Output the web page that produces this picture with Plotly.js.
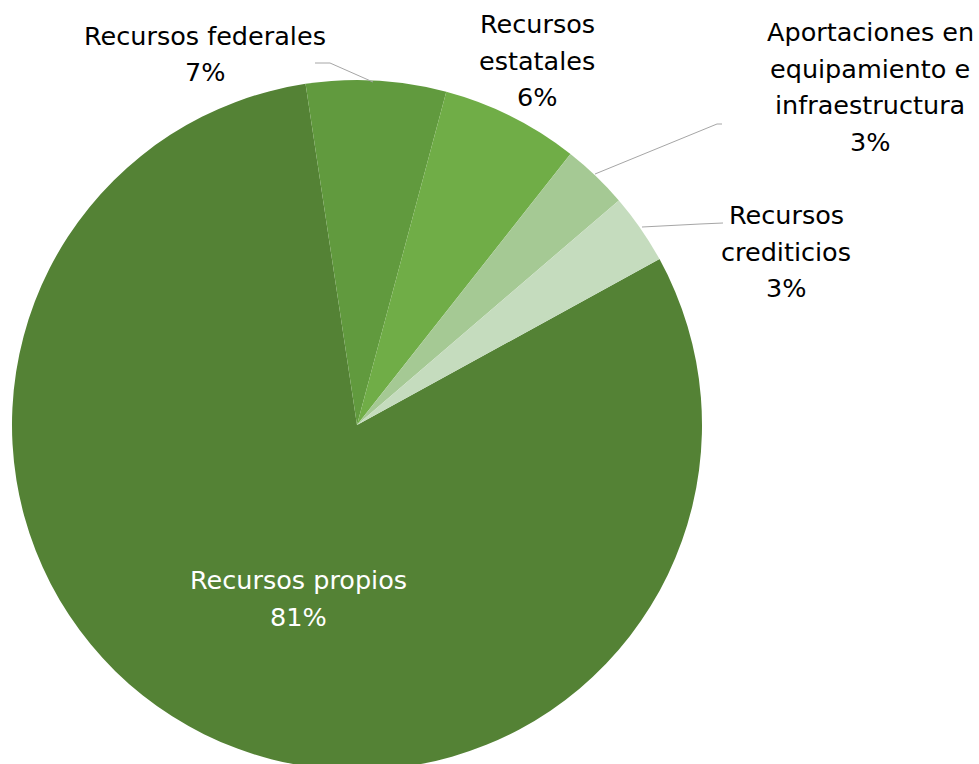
<!DOCTYPE html>
<html>
<head>
<meta charset="utf-8">
<script src="https://cdn.plot.ly/plotly-3.0.1.min.js"></script>
<style>
  html, body { margin: 0; padding: 0; overflow: hidden; background: #ffffff; }
  #chart { width: 979px; height: 800px; }
</style>
</head>
<body>
<div id="chart"></div>
<script>
// ---- data ----
const categories = ["Recursos propios", "Recursos federales", "Recursos estatales", "Aportaciones en equipamiento e infraestructura", "Recursos crediticios"];
const values = [80.6, 6.55, 6.45, 3.1, 3.3];
const colors = ["#548235", "#619A3E", "#70AD47", "#A5C994", "#C5DCBE"];
const labelLines = [
  ["Recursos propios"],
  ["Recursos federales"],
  ["Recursos", "estatales"],
  ["Aportaciones en", "equipamiento e", "infraestructura"],
  ["Recursos", "crediticios"]
];

// ---- layout helpers (pixel -> paper) ----
const W = 979, H = 800;
const px = x => x / W;
const py = y => 1 - y / H;

const total = values.reduce((a, b) => a + b, 0);
const pct = values.map(v => Math.round(v / total * 100) + "%");

// label anchor positions (center x, first-line y) and styles
const labelPos = [
  { x: 298, y: 580, color: "#ffffff" },
  { x: 205, y: 36, color: "#000000" },
  { x: 537, y: 24, color: "#000000" },
  { x: 870, y: 32, color: "#000000" },
  { x: 786, y: 215, color: "#000000" }
];
const lineGap = 36.5;
const FONT = "DejaVu Sans, sans-serif";
const FSIZE = 25.5;

const annotations = [];
labelLines.forEach((lines, i) => {
  const all = lines.concat([pct[i]]);
  all.forEach((t, k) => {
    annotations.push({
      text: t,
      x: px(labelPos[i].x), y: py(labelPos[i].y + k * lineGap),
      xref: "paper", yref: "paper",
      xanchor: "center", yanchor: "middle",
      showarrow: false,
      font: { family: FONT, size: FSIZE, color: labelPos[i].color }
    });
  });
});

const leader = pts => ({
  type: "path",
  xref: "paper", yref: "paper",
  path: "M " + pts.map(p => px(p[0]) + "," + py(p[1])).join(" L "),
  line: { color: "#A6A6A6", width: 1 }
});

const shapes = [
  leader([[315, 63], [330, 63], [373, 82]]),
  leader([[722, 124], [717, 124], [595, 174]]),
  leader([[723, 223], [700, 224], [642, 227]])
];

const trace = {
  type: "pie",
  labels: categories,
  values: values,
  sort: false,
  direction: "clockwise",
  rotation: 61.26,
  marker: { colors: colors, line: { width: 0 } },
  textinfo: "none",
  hoverinfo: "label+percent",
  showlegend: false,
  domain: { x: [px(12), px(702)], y: [py(770), py(80)] }
};

const layout = {
  width: W, height: H,
  margin: { l: 0, r: 0, t: 0, b: 0 },
  paper_bgcolor: "#ffffff",
  showlegend: false,
  annotations: annotations,
  shapes: shapes
};

Plotly.newPlot("chart", [trace], layout, { staticPlot: true, displayModeBar: false });
</script>
</body>
</html>
